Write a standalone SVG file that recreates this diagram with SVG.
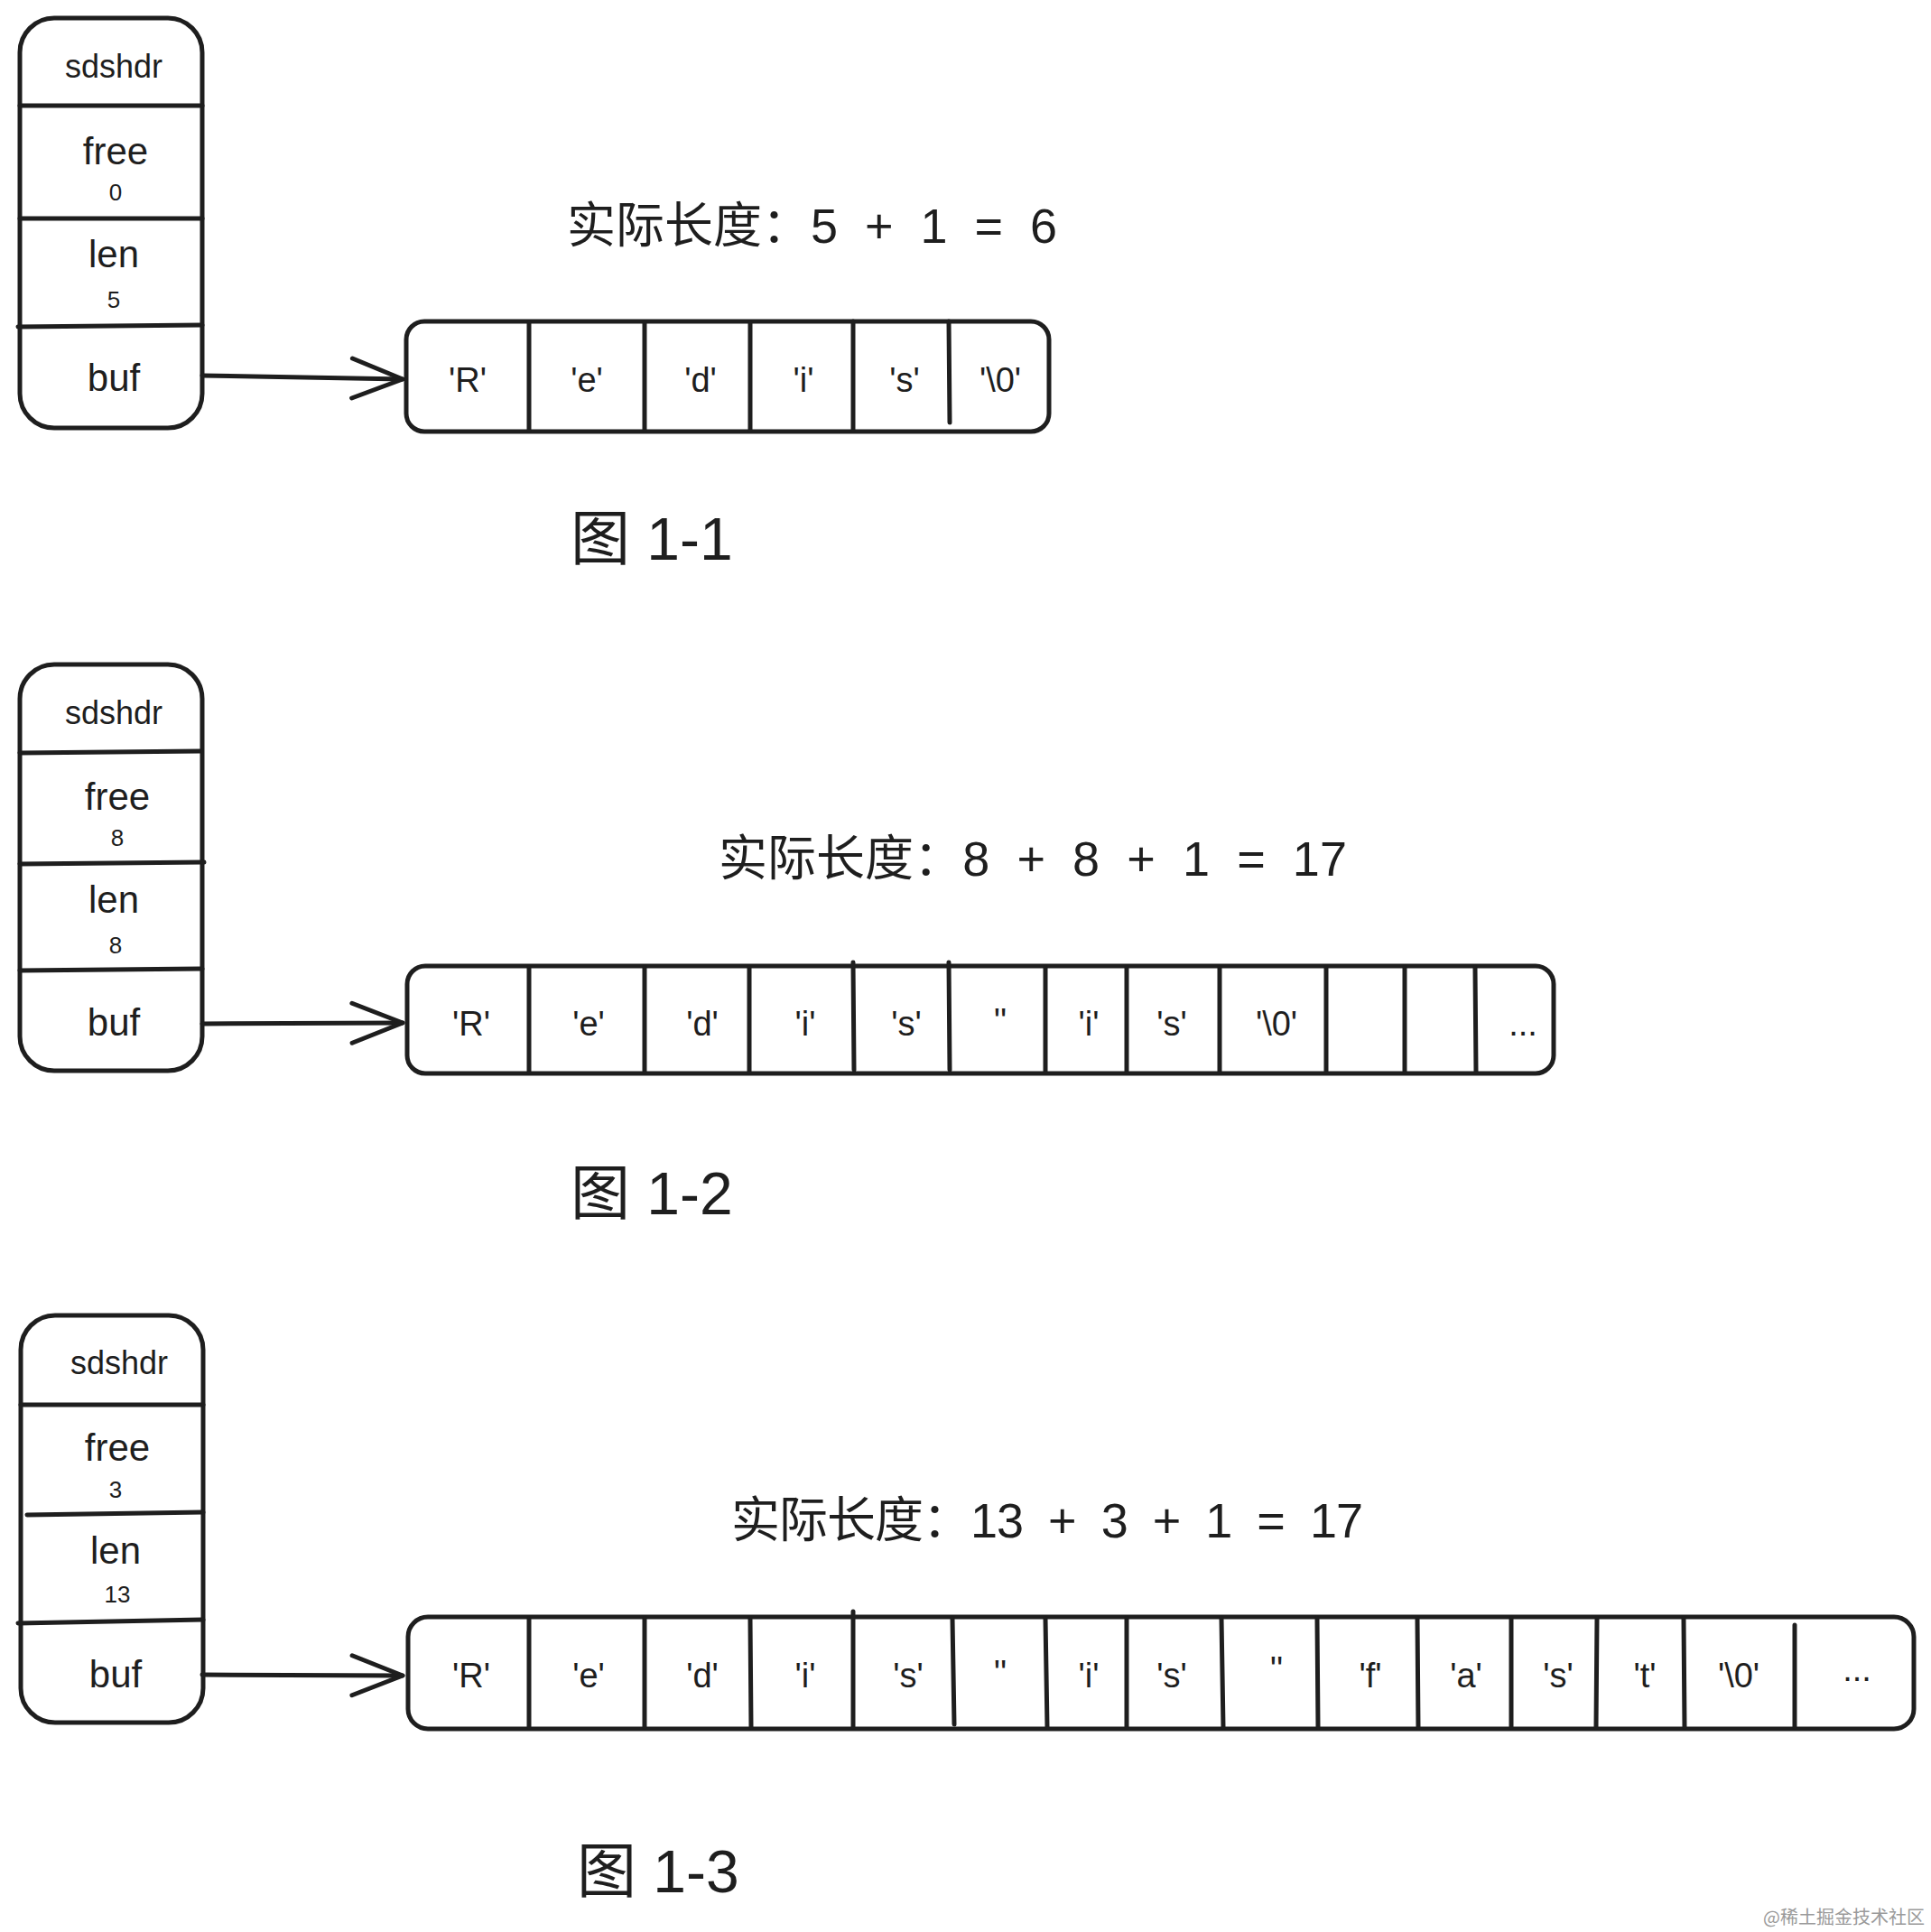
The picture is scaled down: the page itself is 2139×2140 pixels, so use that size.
<svg xmlns="http://www.w3.org/2000/svg" width="2139" height="2140" viewBox="0 0 2139 2140">
<defs>
<style>
.box{fill:none;stroke:#1e1e1e;stroke-width:5;stroke-linecap:round;stroke-linejoin:round}
.div{fill:none;stroke:#1e1e1e;stroke-width:5;stroke-linecap:round}
.conn{fill:none;stroke:#1e1e1e;stroke-width:5;stroke-linecap:round}
.lbl{font-family:"Liberation Sans","Noto Sans",sans-serif;fill:#1e1e1e;text-anchor:middle}
.hdr{font-size:36px}
.fld{font-size:42px}
.num{font-size:26px}
.cell{font-size:38px}
.eq{font-family:"Liberation Sans","Noto Sans CJK SC",sans-serif;font-size:54px;fill:#1e1e1e;white-space:pre}
.ttl{font-family:"Liberation Sans","Noto Sans CJK SC",sans-serif;font-size:66px;fill:#1e1e1e;white-space:pre}
.wm{font-family:"Noto Sans CJK SC",sans-serif;font-size:20px;fill:#9a9a9a}
</style>
<marker id="arrow" markerUnits="userSpaceOnUse" markerWidth="70" markerHeight="60" refX="60" refY="30" orient="auto" viewBox="0 0 70 60">
<path d="M4 8 L60 30 L4 52" fill="none" stroke="#1e1e1e" stroke-width="5" stroke-linecap="round" stroke-linejoin="round"/>
</marker>
</defs>
<rect width="2139" height="2140" fill="#ffffff"/>

<!-- Figure 1-1 -->
<g id="sdshdr1">
<rect class="box" x="22" y="20" width="202" height="454" rx="38"/>
<line class="div" x1="22" y1="117" x2="224" y2="117"/>
<line class="div" x1="22" y1="242" x2="224" y2="242"/>
<line class="div" x1="20" y1="362" x2="224" y2="360"/>
<text class="lbl hdr" x="126" y="86">sdshdr</text>
<text class="lbl fld" x="128" y="182">free</text>
<text class="lbl num" x="128" y="222">0</text>
<text class="lbl fld" x="126" y="296">len</text>
<text class="lbl num" x="126" y="341">5</text>
<text class="lbl fld" x="126" y="433">buf</text>
</g>
<g id="buf1">
<rect class="box" x="450" y="356" width="712" height="122" rx="20"/>
<line class="div" x1="586" y1="358" x2="586" y2="476"/>
<line class="div" x1="714" y1="358" x2="714" y2="476"/>
<line class="div" x1="831" y1="358" x2="831" y2="476"/>
<line class="div" x1="945" y1="356" x2="945" y2="476"/>
<line class="div" x1="1051" y1="356" x2="1052" y2="468"/>
<text class="lbl cell" x="518" y="434">'R'</text>
<text class="lbl cell" x="650" y="434">'e'</text>
<text class="lbl cell" x="776" y="434">'d'</text>
<text class="lbl cell" x="890" y="434">'i'</text>
<text class="lbl cell" x="1002" y="434">'s'</text>
<text class="lbl cell" x="1108" y="434">'\0'</text>
</g>
<g id="eq1"><text class="eq" x="628" y="269" textLength="543" lengthAdjust="spacing">实际长度：5  +  1  =  6</text></g>
<g id="title1"><text class="ttl" x="632" y="620">图 1-1</text></g>

<!-- Figure 1-2 -->
<g id="sdshdr2">
<rect class="box" x="22" y="736" width="202" height="450" rx="38"/>
<line class="div" x1="22" y1="834" x2="222" y2="832"/>
<line class="div" x1="22" y1="957" x2="226" y2="955"/>
<line class="div" x1="22" y1="1075" x2="224" y2="1073"/>
<text class="lbl hdr" x="126" y="802">sdshdr</text>
<text class="lbl fld" x="130" y="897">free</text>
<text class="lbl num" x="130" y="937">8</text>
<text class="lbl fld" x="126" y="1011">len</text>
<text class="lbl num" x="128" y="1056">8</text>
<text class="lbl fld" x="126" y="1147">buf</text>
</g>
<g id="buf2">
<rect class="box" x="451" y="1070" width="1270" height="119" rx="20"/>
<line class="div" x1="586" y1="1072" x2="586" y2="1187"/>
<line class="div" x1="714" y1="1072" x2="714" y2="1187"/>
<line class="div" x1="830" y1="1072" x2="830" y2="1187"/>
<line class="div" x1="945" y1="1066" x2="946" y2="1185"/>
<line class="div" x1="1051" y1="1066" x2="1052" y2="1185"/>
<line class="div" x1="1158" y1="1072" x2="1158" y2="1187"/>
<line class="div" x1="1248" y1="1072" x2="1248" y2="1187"/>
<line class="div" x1="1351" y1="1072" x2="1351" y2="1187"/>
<line class="div" x1="1469" y1="1072" x2="1469" y2="1187"/>
<line class="div" x1="1556" y1="1072" x2="1556" y2="1187"/>
<line class="div" x1="1634" y1="1072" x2="1635" y2="1187"/>
<text class="lbl cell" x="522" y="1147">'R'</text>
<text class="lbl cell" x="652" y="1147">'e'</text>
<text class="lbl cell" x="778" y="1147">'d'</text>
<text class="lbl cell" x="892" y="1147">'i'</text>
<text class="lbl cell" x="1004" y="1147">'s'</text>
<text class="lbl cell" x="1108" y="1144" font-size="28">''</text>
<text class="lbl cell" x="1206" y="1147">'i'</text>
<text class="lbl cell" x="1298" y="1147">'s'</text>
<text class="lbl cell" x="1414" y="1147">'\0'</text>
<text class="lbl cell" x="1687" y="1147">...</text>
</g>
<g id="eq2"><text class="eq" x="796" y="970" textLength="696" lengthAdjust="spacing">实际长度：8  +  8  +  1  =  17</text></g>
<g id="title2"><text class="ttl" x="632" y="1345">图 1-2</text></g>

<!-- Figure 1-3 -->
<g id="sdshdr3">
<rect class="box" x="23" y="1457" width="202" height="451" rx="38"/>
<line class="div" x1="23" y1="1556" x2="225" y2="1556"/>
<line class="div" x1="30" y1="1678" x2="225" y2="1675"/>
<line class="div" x1="20" y1="1798" x2="225" y2="1794"/>
<text class="lbl hdr" x="132" y="1522">sdshdr</text>
<text class="lbl fld" x="130" y="1618">free</text>
<text class="lbl num" x="128" y="1659">3</text>
<text class="lbl fld" x="128" y="1732">len</text>
<text class="lbl num" x="130" y="1775">13</text>
<text class="lbl fld" x="128" y="1869">buf</text>
</g>
<g id="buf3">
<rect class="box" x="452" y="1791" width="1668" height="124" rx="22"/>
<line class="div" x1="586" y1="1793" x2="586" y2="1913"/>
<line class="div" x1="714" y1="1793" x2="714" y2="1913"/>
<line class="div" x1="831" y1="1793" x2="832" y2="1913"/>
<line class="div" x1="945" y1="1785" x2="945" y2="1913"/>
<line class="div" x1="1055" y1="1793" x2="1057" y2="1910"/>
<line class="div" x1="1158" y1="1793" x2="1160" y2="1913"/>
<line class="div" x1="1248" y1="1793" x2="1248" y2="1913"/>
<line class="div" x1="1353" y1="1793" x2="1355" y2="1913"/>
<line class="div" x1="1459" y1="1793" x2="1460" y2="1913"/>
<line class="div" x1="1570" y1="1793" x2="1571" y2="1913"/>
<line class="div" x1="1674" y1="1793" x2="1674" y2="1913"/>
<line class="div" x1="1769" y1="1793" x2="1768" y2="1913"/>
<line class="div" x1="1865" y1="1793" x2="1866" y2="1913"/>
<line class="div" x1="1988" y1="1800" x2="1988" y2="1913"/>
<text class="lbl cell" x="522" y="1869">'R'</text>
<text class="lbl cell" x="652" y="1869">'e'</text>
<text class="lbl cell" x="778" y="1869">'d'</text>
<text class="lbl cell" x="892" y="1869">'i'</text>
<text class="lbl cell" x="1006" y="1869">'s'</text>
<text class="lbl cell" x="1108" y="1866" font-size="28">''</text>
<text class="lbl cell" x="1206" y="1869">'i'</text>
<text class="lbl cell" x="1298" y="1869">'s'</text>
<text class="lbl cell" x="1414" y="1862" font-size="22">''</text>
<text class="lbl cell" x="1518" y="1869">'f'</text>
<text class="lbl cell" x="1624" y="1869">'a'</text>
<text class="lbl cell" x="1726" y="1869">'s'</text>
<text class="lbl cell" x="1822" y="1869">'t'</text>
<text class="lbl cell" x="1926" y="1869">'\0'</text>
<text class="lbl cell" x="2057" y="1862">...</text>
</g>
<g id="eq3"><text class="eq" x="810" y="1703" textLength="700" lengthAdjust="spacing">实际长度：13  +  3  +  1  =  17</text></g>
<g id="title3"><text class="ttl" x="639" y="2096">图 1-3</text></g>

<g id="connectors">
<line class="conn" x1="224" y1="416" x2="446" y2="420" marker-end="url(#arrow)"/>
<line class="conn" x1="224" y1="1134" x2="446" y2="1133" marker-end="url(#arrow)"/>
<line class="conn" x1="224" y1="1855" x2="446" y2="1856" marker-end="url(#arrow)"/>
</g>

<text class="wm" x="2132" y="2131" text-anchor="end">@稀土掘金技术社区</text>
</svg>
